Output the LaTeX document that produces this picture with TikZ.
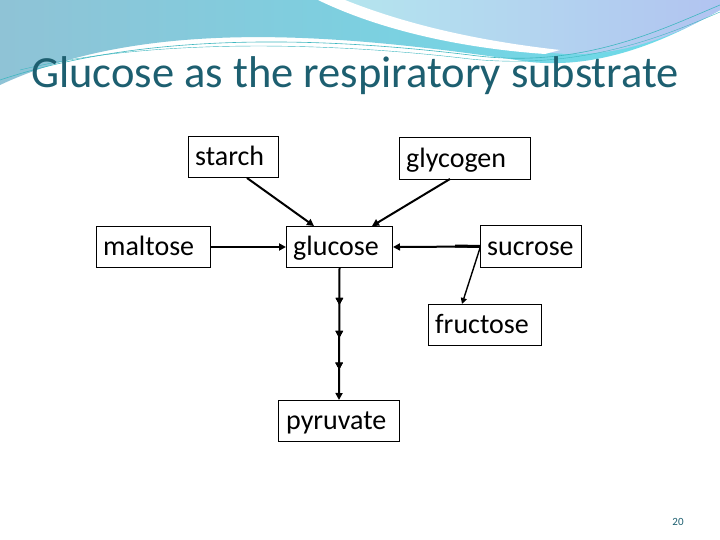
\documentclass[tikz,border=0pt]{standalone}
\usepackage{fontspec}
\setmainfont{Carlito}
\usetikzlibrary{arrows.meta,decorations.markings}
\definecolor{titlec}{HTML}{1D5F70}
\definecolor{wa}{HTML}{8FC3D6}
\definecolor{wb}{HTML}{6ADCEA}
\definecolor{wc}{HTML}{B4E6EE}
\tikzset{
  box/.style={draw=black,line width=1pt,inner sep=0pt,anchor=north west},
  lbl/.style={anchor=base west,font=\fontsize{28}{32}\selectfont,inner sep=0pt},
  arr/.style={line width=2pt,-{Triangle[length=7pt,width=7pt]}},
  mid/.style={decoration={markings,mark=at position #1 with {\arrow{Triangle[length=7pt,width=7pt]}}},postaction={decorate}}
}
\begin{document}
\begin{tikzpicture}[x=1pt,y=-1pt]
\useasboundingbox (0,0) rectangle (720,540);
\fill[white] (0,0) rectangle (720,540);
% banner
\shade[left color=wa,right color=wb] (0,0) -- (720,0) -- (720,10) .. controls (650,50) and (590,68) .. (530,62) .. controls (350,35) and (150,15) .. (0,85) -- cycle;
\shade[left color=wc,right color=wa!70!blue!50] (330,0) -- (720,0) -- (720,10) .. controls (660,45) and (600,60) .. (545,52) .. controls (460,40) and (400,25) .. (330,0) -- cycle;
\fill[white] (318,0) .. controls (380,30) and (460,48) .. (545,54) -- (560,50) .. controls (470,40) and (400,22) .. (345,0) -- cycle;
\draw[wb!60!teal,line width=0.6pt] (0,80) .. controls (150,30) and (330,38) .. (470,55) .. controls (580,70) and (660,30) .. (720,5);
\draw[wb!60!teal,line width=0.4pt] (20,70) .. controls (150,38) and (330,42) .. (470,59) .. controls (580,70) and (660,38) .. (720,12);
\node[anchor=base west,font=\fontsize{44.5}{50}\selectfont,text=titlec,inner sep=0pt] (title) at (31,88) {Glucose as the respiratory substrate};
% boxes
\node[box,minimum width=90pt,minimum height=41pt] (starch) at (188,136) {};
\node[lbl] (starcht) at (195,166) {starch};
\node[box,minimum width=131pt,minimum height=42pt] (glycogen) at (399,137) {};
\node[lbl] (glycogent) at (406,168) {glycogen};
\node[box,minimum width=114pt,minimum height=41pt] (maltose) at (96,226) {};
\node[lbl] (maltoset) at (103,255) {maltose};
\node[box,minimum width=106pt,minimum height=41pt] (glucose) at (286,226) {};
\node[lbl] (glucoset) at (293,255) {glucose};
\node[box,minimum width=101pt,minimum height=42pt] (sucrose) at (480,225) {};
\node[lbl] (sucroset) at (487,255) {sucrose};
\node[box,minimum width=113pt,minimum height=41pt] (fructose) at (428,304) {};
\node[lbl] (fructoset) at (435,333) {fructose};
\node[box,minimum width=121pt,minimum height=41pt] (pyruvate) at (278,400) {};
\node[lbl] (pyruvatet) at (286,429) {pyruvate};
\node[font=\fontsize{11}{12}\selectfont,text=titlec] (pg) at (678,522) {20};
% connectors
\coordinate (s1) at (247,178); \coordinate (s2) at (314,226);
\coordinate (g1) at (450,179); \coordinate (g2) at (372,226);
\draw[arr] (s1) -- (s2);
\draw[arr] (g1) -- (g2);
\draw[arr] (maltose.east) -- (glucose.west);
\draw[arr] (sucrose.west) -- (glucose.east);
\draw[line width=3pt] (455,246) -- (sucrose.west);
\coordinate (f1) at (480,248); \coordinate (f2) at (462,304);
\draw[line width=1.4pt,-{Triangle[length=6pt,width=6pt]}] (f1) -- (f2);
\draw[arr,mid=0.28,mid=0.53,mid=0.77] (glucose.south) -- (pyruvate.north);
\end{tikzpicture}
\end{document}
